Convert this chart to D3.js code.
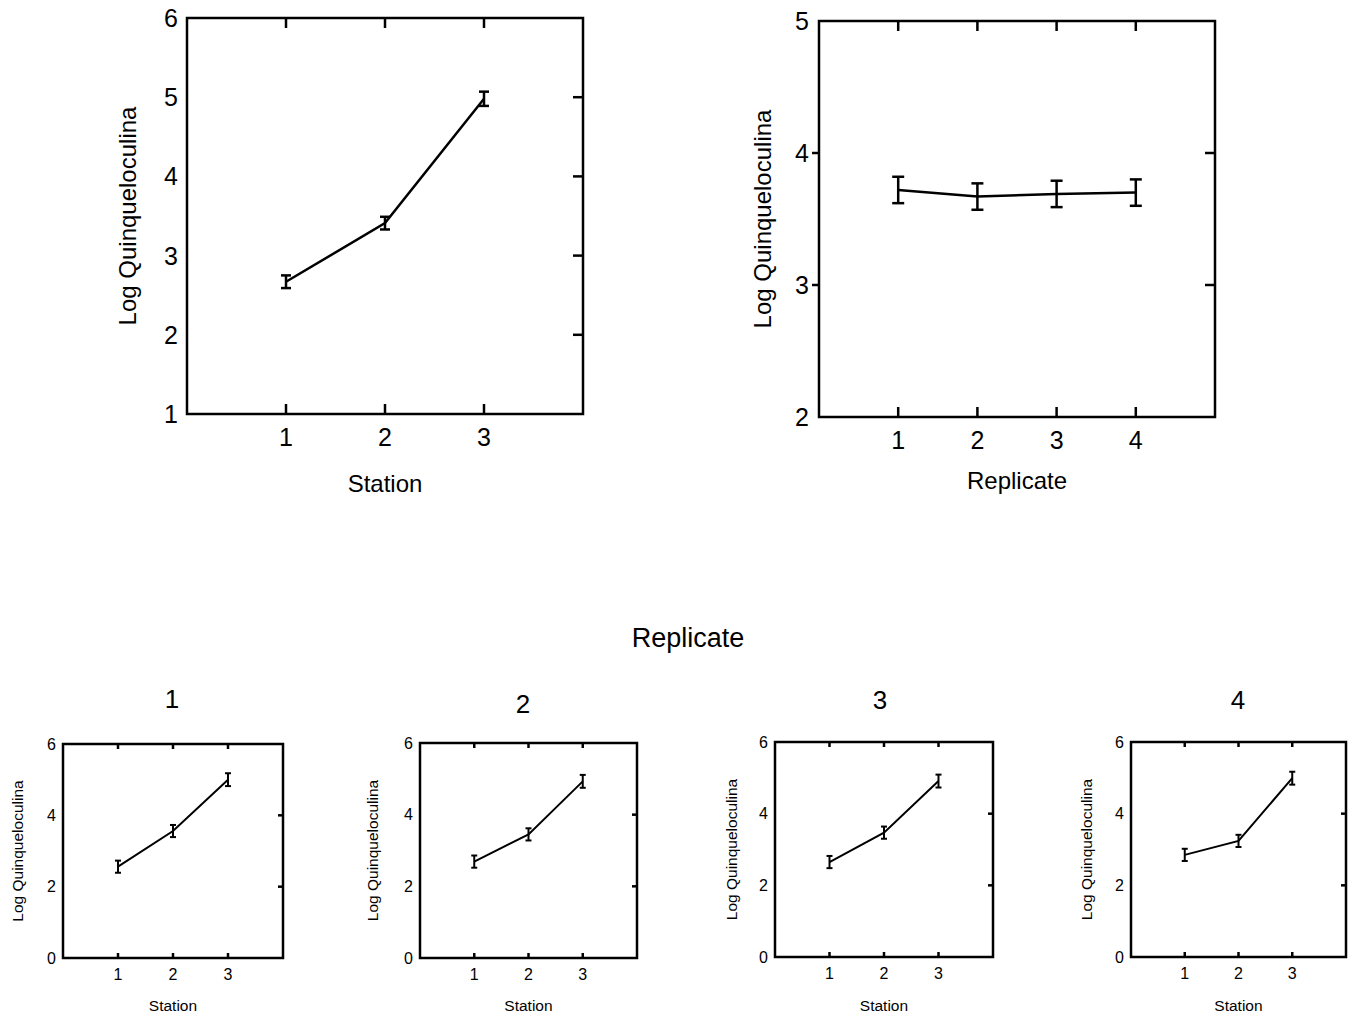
<!DOCTYPE html>
<html>
<head>
<meta charset="utf-8">
<script src="https://cdn.jsdelivr.net/npm/d3@7"></script>
<style>
  body { margin: 0; background: #fff; }
  svg text { font-family: "Liberation Sans", Arial, sans-serif; fill: #000; }
</style>
</head>
<body>
<div id="chart"></div>
<script>
// data
const stations = [1, 2, 3];
const replicates = [1, 2, 3, 4];

const stationMean = [2.67, 3.41, 4.98];
const stationErr = [0.08, 0.08, 0.09];

const replicateMean = [3.72, 3.67, 3.69, 3.70];
const replicateErr = [0.10, 0.10, 0.10, 0.10];

const rep1Mean = [2.56, 3.56, 5.00];
const rep2Mean = [2.69, 3.45, 4.93];
const rep3Mean = [2.65, 3.47, 4.91];
const rep4Mean = [2.85, 3.24, 4.99];
const repErr = [0.17, 0.17, 0.18];

const panelTitles = ["1", "2", "3", "4"];
const yLabel = "Log Quinqueloculina";

const W = 1350, H = 1015;
const svg = d3.select("#chart").append("svg")
    .attr("width", W)
    .attr("height", H);

// draws one framed panel
function drawPanel(o) {
  const x = d3.scaleLinear().domain(o.xDomain).range([o.left, o.right]);
  const y = d3.scaleLinear().domain(o.yDomain).range([o.bottom, o.top]);
  const g = svg.append("g");

  // frame
  g.append("rect")
      .attr("x", o.left).attr("y", o.top)
      .attr("width", o.right - o.left).attr("height", o.bottom - o.top)
      .attr("fill", "none").attr("stroke", "#000").attr("stroke-width", o.frameW);

  // x ticks inside, top and bottom
  o.xTicks.forEach(t => {
    g.append("line").attr("x1", x(t)).attr("x2", x(t))
        .attr("y1", o.bottom).attr("y2", o.bottom - o.tickLen)
        .attr("stroke", "#000").attr("stroke-width", o.frameW);
    g.append("line").attr("x1", x(t)).attr("x2", x(t))
        .attr("y1", o.top).attr("y2", o.top + o.tickLen)
        .attr("stroke", "#000").attr("stroke-width", o.frameW);
    g.append("text")
        .attr("x", x(t)).attr("y", o.bottom + o.xLabelGap)
        .attr("text-anchor", "middle")
        .style("font-size", o.tickFont + "px")
        .text(t);
  });

  // y ticks on the right, inside
  o.yTicks.forEach(t => {
    if (t > o.yDomain[0] && t < o.yDomain[1]) {
      g.append("line").attr("x1", o.right).attr("x2", o.right - o.tickLen)
          .attr("y1", y(t)).attr("y2", y(t))
          .attr("stroke", "#000").attr("stroke-width", o.frameW);
      if (o.leftTicks) {
        g.append("line").attr("x1", o.left).attr("x2", o.left - o.tickLen * 0.7)
            .attr("y1", y(t)).attr("y2", y(t))
            .attr("stroke", "#000").attr("stroke-width", o.frameW);
      }
    }
    g.append("text")
        .attr("x", o.left - o.yLabelGap).attr("y", y(t))
        .attr("dy", "0.36em")
        .attr("text-anchor", "end")
        .style("font-size", o.tickFont + "px")
        .text(t);
  });

  // axis titles
  g.append("text")
      .attr("x", (o.left + o.right) / 2).attr("y", o.xTitleY)
      .attr("text-anchor", "middle")
      .style("font-size", o.titleFont + "px")
      .text(o.xTitle);
  g.append("text")
      .attr("transform", `translate(${o.yTitleX},${(o.top + o.bottom) / 2}) rotate(-90)`)
      .attr("text-anchor", "middle")
      .style("font-size", o.titleFont + "px")
      .text(yLabel);

  const pts = o.xs.map((v, i) => ({ x: v, y: o.means[i], e: o.errs[i] }));

  // line
  g.append("path")
      .datum(pts)
      .attr("fill", "none")
      .attr("stroke", "#000")
      .attr("stroke-width", o.lineW)
      .attr("d", d3.line().x(d => x(d.x)).y(d => y(d.y)));

  // error bars
  const eb = g.selectAll(".eb").data(pts).enter().append("g");
  eb.append("line")
      .attr("x1", d => x(d.x)).attr("x2", d => x(d.x))
      .attr("y1", d => y(d.y - d.e)).attr("y2", d => y(d.y + d.e))
      .attr("stroke", "#000").attr("stroke-width", o.lineW);
  [-1, 1].forEach(s => {
    eb.append("line")
        .attr("x1", d => x(d.x) - o.cap).attr("x2", d => x(d.x) + o.cap)
        .attr("y1", d => y(d.y + s * d.e)).attr("y2", d => y(d.y + s * d.e))
        .attr("stroke", "#000").attr("stroke-width", o.lineW);
  });

  if (o.title) {
    g.append("text")
        .attr("x", o.titleX).attr("y", o.titleY)
        .attr("text-anchor", "middle")
        .style("font-size", "26px")
        .text(o.title);
  }
}

// top left: station
drawPanel({
  left: 187, right: 583, top: 18, bottom: 414,
  xDomain: [0, 4], yDomain: [1, 6],
  xTicks: stations, yTicks: [1, 2, 3, 4, 5, 6],
  xs: stations, means: stationMean, errs: stationErr,
  xTitle: "Station", xTitleY: 492, yTitleX: 136,
  tickFont: 25, titleFont: 24, xLabelGap: 32, yLabelGap: 9,
  tickLen: 10, frameW: 2.5, lineW: 2.5, cap: 5, leftTicks: false
});

// top right: replicate
drawPanel({
  left: 819, right: 1215, top: 21, bottom: 417,
  xDomain: [0, 5], yDomain: [2, 5],
  xTicks: replicates, yTicks: [2, 3, 4, 5],
  xs: replicates, means: replicateMean, errs: replicateErr,
  xTitle: "Replicate", xTitleY: 489, yTitleX: 771,
  tickFont: 25, titleFont: 24, xLabelGap: 32, yLabelGap: 10,
  tickLen: 10, frameW: 2.5, lineW: 2.5, cap: 6, leftTicks: true
});

svg.append("text")
    .attr("x", 688).attr("y", 647)
    .attr("text-anchor", "middle")
    .style("font-size", "27px")
    .text("Replicate");

// bottom row, one panel per replicate
const repMeans = [rep1Mean, rep2Mean, rep3Mean, rep4Mean];
const bottomBoxes = [
  { left: 63, right: 283, top: 744, bottom: 958, titleX: 172, titleY: 708, yTitleX: 23 },
  { left: 420, right: 637, top: 743, bottom: 958, titleX: 523, titleY: 713, yTitleX: 378 },
  { left: 775, right: 993, top: 742, bottom: 957, titleX: 880, titleY: 709, yTitleX: 737 },
  { left: 1131, right: 1346, top: 742, bottom: 957, titleX: 1238, titleY: 709, yTitleX: 1092 }
];

bottomBoxes.forEach((b, i) => {
  drawPanel(Object.assign({}, b, {
    xDomain: [0, 4], yDomain: [0, 6],
    xTicks: stations, yTicks: [0, 2, 4, 6],
    xs: stations, means: repMeans[i], errs: repErr,
    xTitle: "Station", xTitleY: 1011,
    tickFont: 16, titleFont: 15.5, xLabelGap: 22, yLabelGap: 7,
    tickLen: 5, frameW: 2.5, lineW: 2, cap: 3, leftTicks: false,
    title: panelTitles[i]
  }));
});
</script>
</body>
</html>
